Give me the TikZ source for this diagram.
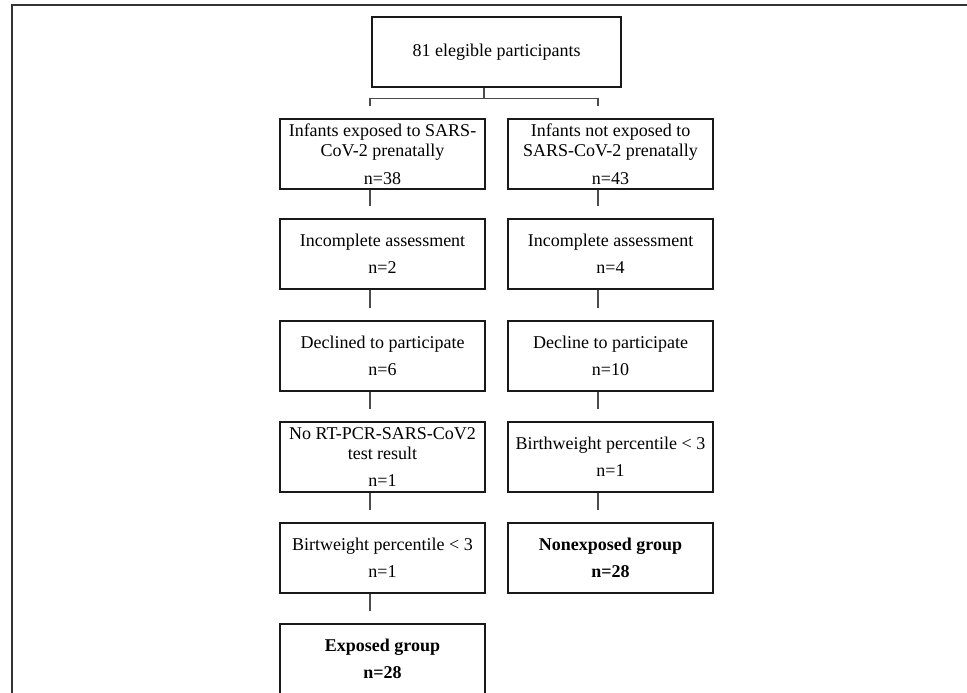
\documentclass[tikz,border=0pt]{standalone}
\usepackage{fontspec}
\setmainfont{Liberation Serif}
\usepackage{tikz}

\tikzset{
  box/.style={draw=black!90, line width=1.1pt, minimum width=102.5pt, minimum height=35pt,
    align=center, inner sep=1pt, font=\fontsize{9}{10.2}\selectfont},
  topbox/.style={box, line width=1.4pt, minimum width=124.5pt},
  link/.style={draw=black!70, line width=0.55pt},
  frame/.style={draw=black!80, line width=0.9pt}
}

\begin{document}
\begin{tikzpicture}[x=0.5pt, y=-0.5pt]
    % Page area and outer frame
    \useasboundingbox (0,0) rectangle (967,692);
    \clip (0,0) rectangle (967,692);
    \fill[white] (0,0) rectangle (967,692);
    \draw[frame] (12,5) rectangle (1000,730);

    % Top box
    \node[topbox] (all) at (496.5,52) {81 elegible participants};

    % Exposed branch
    \node[box] (ex1) at (382.5,154) {Infants exposed to SARS-\\CoV-2 prenatally\\[3.5pt]n=38};
    \node[box] (ex2) at (382.5,254) {Incomplete assessment\\[3.5pt]n=2};
    \node[box] (ex3) at (382.5,356) {Declined to participate\\[3.5pt]n=6};
    \node[box] (ex4) at (382.5,457) {No RT-PCR-SARS-CoV2\\test result\\[3.5pt]n=1};
    \node[box] (ex5) at (382.5,558) {Birtweight percentile < 3\\[3.5pt]n=1};
    \node[box] (ex6) at (382.5,659) {\textbf{Exposed group}\\[3.5pt]\textbf{n=28}};

    % Nonexposed branch
    \node[box] (non1) at (610.5,154) {Infants not exposed to\\SARS-CoV-2 prenatally\\[3.5pt]n=43};
    \node[box] (non2) at (610.5,254) {Incomplete assessment\\[3.5pt]n=4};
    \node[box] (non3) at (610.5,356) {Decline to participate\\[3.5pt]n=10};
    \node[box] (non4) at (610.5,457) {Birthweight percentile < 3\\[3.5pt]n=1};
    \node[box] (non5) at (610.5,558) {\textbf{Nonexposed group}\\[3.5pt]\textbf{n=28}};

    % Split under the top box
    \coordinate (split) at ([xshift=-6.25pt,yshift=-5pt]all.south);
    \coordinate (exTop) at ([xshift=-6.25pt,yshift=6pt]ex1.north);
    \coordinate (nonTop) at ([xshift=-6.25pt,yshift=6pt]non1.north);
    \draw[link] ([xshift=-6.25pt]all.south) -- (split);
    \draw[link] (exTop) |- (split) -| (nonTop);

    % Connectors down each branch
    \foreach \a/\b in {ex1/ex2, ex2/ex3, ex3/ex4, ex4/ex5, ex5/ex6,
                       non1/non2, non2/non3, non3/non4, non4/non5}
      \draw[link, shorten >=6pt] ([xshift=-6.25pt]\a.south) -- ([xshift=-6.25pt]\b.north);
\end{tikzpicture}
\end{document}
